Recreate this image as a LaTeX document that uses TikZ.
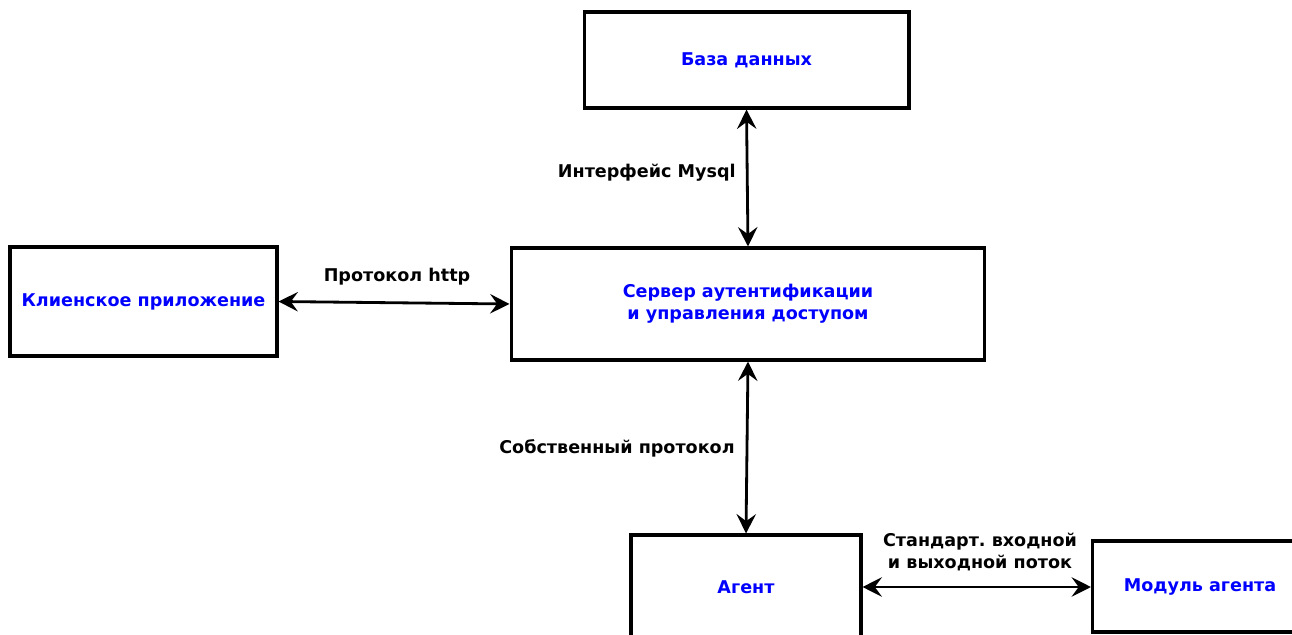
\documentclass[tikz,border=0pt]{standalone}
\usepackage{fontspec}
\setmainfont{DejaVu Sans}
\usetikzlibrary{arrows.meta}

\begin{document}
\begin{tikzpicture}[x=0.02cm, y=-0.02cm,
    box/.style={draw, line width=1.75pt, fill=white, text=blue, font=\bfseries\fontsize{10}{12.5}\selectfont, align=center, inner sep=0pt},
    link/.style={{Stealth[length=11pt,width=11pt,inset=4pt]}-{Stealth[length=11pt,width=11pt,inset=4pt]}, line width=1.6pt},
    lbl/.style={font=\bfseries\fontsize{10}{12.5}\selectfont, align=center, inner sep=0pt}]
    \useasboundingbox (0,0) rectangle (1292,635);

    % boxes
    \node[box, minimum width=6.5cm, minimum height=1.92cm] (db) at (746.5,60) {База данных};
    \node[box, minimum width=5.34cm, minimum height=2.18cm] (client) at (143.5,301.5) {Клиенское приложение};
    \node[box, minimum width=9.48cm, minimum height=2.24cm] (server) at (748,304) {Сервер аутентификации\\ и управления доступом};
    \node[box, minimum width=4.6cm, minimum height=2.08cm] (agent) at (746,587) {Агент};
    \node[box, minimum width=4.3cm, minimum height=1.82cm] (module) at (1200,586.5) {Модуль агента};

    % connectors
    \draw[link] (db.south) -- (server.north);
    \draw[link] (client.east) -- (server.west);
    \draw[link] (server.south) -- (agent.north);
    \draw[link] (agent.east) -- (module.west |- agent.east);

    % labels
    \node[lbl, anchor=east] (mysql) at (736,173) {Интерфейс Mysql};
    \node[lbl] (http) at (397,277) {Протокол http};
    \node[lbl, anchor=east] (own) at (735,448) {Собственный протокол};
    \node[lbl] (stdio) at (980,552) {Стандарт.\ входной\\и выходной поток};
\end{tikzpicture}
\end{document}
